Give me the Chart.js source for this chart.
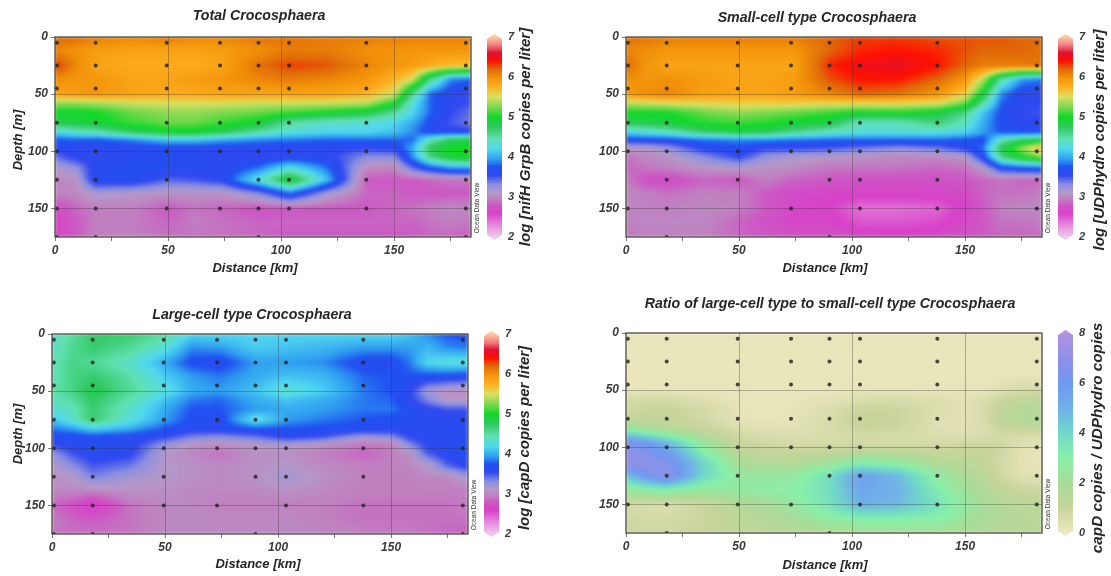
<!DOCTYPE html>
<html>
<head>
<meta charset="utf-8">
<title>Crocosphaera sections</title>
<script src="https://cdn.jsdelivr.net/npm/chart.js@4"></script>
<style>
  html, body { margin: 0; padding: 0; background: #fff; }
  body { position: relative; width: 1111px; height: 576px; overflow: hidden; }
  canvas { position: absolute; filter: blur(0.55px); }
</style>
</head>
<body>
<canvas id="total"></canvas>
<canvas id="small"></canvas>
<canvas id="large"></canvas>
<canvas id="ratio"></canvas>
<script>
// grid the fields were read on
const distances = [0, 9, 18, 34, 50, 62, 74, 90, 104, 120, 138, 150, 158, 166, 175, 185];
const depths = [0, 12, 25, 37, 50, 58, 66, 75, 83, 90, 97, 105, 115, 125, 137, 150, 162, 175];

const totalField = [
  [6.2,6.18,6.1,6.05,6.12,6.05,6.05,6.12,6.15,6.1,6.08,6.08,6.08,6.08,6.08,6.08],
  [6.05,5.98,5.9,5.85,5.85,5.85,5.9,6.0,6.1,6.1,6.0,5.98,5.95,5.95,5.95,5.95],
  [6.35,6.05,5.85,5.8,5.8,5.8,5.85,6.15,6.3,6.25,6.05,5.95,5.9,5.8,5.7,5.65],
  [6.0,5.95,5.95,5.85,5.85,5.9,5.95,6.05,6.1,6.05,5.95,5.75,5.5,4.6,3.9,3.8],
  [5.85,5.9,5.95,5.85,5.8,5.8,5.85,5.85,5.85,5.85,5.75,5.5,4.6,3.8,3.6,3.5],
  [5.3,5.3,5.35,5.45,5.5,5.5,5.5,5.45,5.45,5.45,5.4,5.0,4.3,3.8,3.6,3.5],
  [4.95,4.95,5.0,5.2,5.3,5.3,5.25,5.2,5.1,5.0,4.85,4.55,4.2,3.8,3.55,3.4],
  [4.85,4.9,4.95,5.1,5.2,5.2,5.1,4.95,4.5,4.35,4.3,4.2,4.0,3.7,3.5,3.35],
  [4.2,4.35,4.45,4.75,4.95,4.95,4.8,4.5,4.3,4.2,4.2,4.1,3.9,3.65,3.6,3.6],
  [3.75,3.8,3.75,3.9,4.1,4.1,4.0,3.9,3.85,3.8,3.8,3.8,3.8,4.4,4.8,4.9],
  [3.65,3.6,3.6,3.6,3.65,3.65,3.6,3.6,3.6,3.6,3.55,3.6,4.0,4.8,5.0,5.05],
  [3.4,3.6,3.6,3.65,3.7,3.65,3.6,3.55,3.6,3.6,3.3,3.3,3.9,4.6,4.95,5.0],
  [3.1,3.25,3.65,3.7,3.7,3.65,3.6,3.85,4.3,3.85,3.0,2.95,3.4,3.7,3.9,3.95],
  [3.0,3.05,3.7,3.7,3.45,3.5,3.6,4.3,5.0,4.1,2.8,2.8,2.8,2.85,2.9,2.9],
  [2.95,3.0,3.15,3.1,3.05,3.05,3.05,3.3,3.8,3.2,2.85,2.85,2.8,2.8,2.8,2.8],
  [2.7,2.85,2.95,2.95,2.8,2.9,2.85,2.75,2.8,2.8,2.8,2.85,2.9,2.95,3.0,3.0],
  [2.65,2.8,2.95,2.95,2.85,2.95,2.9,2.85,2.85,2.85,2.85,2.85,2.85,2.9,2.95,2.9],
  [2.6,2.8,2.95,2.95,2.9,2.9,2.9,2.85,2.8,2.8,2.8,2.8,2.8,2.85,2.85,2.8]
];

const smallField = [
  [6.15,6.15,6.1,6.1,6.1,6.1,6.1,6.2,6.3,6.3,6.25,6.25,6.25,6.25,6.2,6.2],
  [6.05,6.0,5.95,5.95,5.95,5.95,5.95,6.2,6.35,6.4,6.35,6.25,6.2,6.2,6.2,6.15],
  [6.2,5.95,5.85,5.85,5.85,5.85,5.85,6.35,6.5,6.55,6.4,6.2,6.1,6.1,6.1,6.15],
  [6.0,5.95,6.0,5.9,5.85,5.85,5.9,6.25,6.4,6.4,6.2,5.95,5.4,4.5,3.95,3.85],
  [5.9,6.0,6.05,5.9,5.85,5.85,5.9,6.05,6.2,6.15,5.95,5.6,4.9,3.9,3.6,3.6],
  [5.4,5.45,5.5,5.55,5.6,5.6,5.6,5.55,5.55,5.55,5.5,5.2,4.5,3.8,3.6,3.6],
  [5.0,5.0,5.0,5.2,5.3,5.25,5.2,5.1,5.0,5.05,4.9,4.6,4.1,3.7,3.55,3.5],
  [4.8,4.85,4.9,5.05,5.1,5.05,4.95,4.85,4.4,4.4,4.65,4.4,4.0,3.7,3.6,3.6],
  [4.2,4.3,4.4,4.7,4.85,4.8,4.6,4.4,4.3,4.3,4.3,4.2,3.95,3.75,3.7,3.7],
  [3.65,3.7,3.7,3.85,3.9,3.9,3.85,3.8,3.8,3.8,3.8,3.75,3.7,4.4,4.7,4.85],
  [3.1,3.1,3.25,3.6,3.7,3.55,3.55,3.5,3.4,3.3,3.4,3.6,3.85,4.8,5.3,5.8],
  [2.9,3.0,3.05,3.3,3.55,3.25,3.15,3.1,3.05,3.0,3.0,3.1,3.65,4.6,5.0,5.3],
  [2.85,2.9,2.95,3.05,3.1,3.05,3.0,2.9,2.9,2.9,2.85,2.9,3.1,3.6,3.7,3.75],
  [2.95,2.75,2.7,2.85,2.8,2.95,2.85,2.8,2.75,2.75,2.75,2.8,2.85,2.9,2.85,2.85],
  [3.0,2.95,2.9,2.95,2.95,2.8,2.7,2.65,2.65,2.65,2.65,2.7,2.85,2.9,2.9,2.95],
  [3.0,2.95,2.95,3.0,2.95,2.8,2.65,2.6,2.4,2.4,2.45,2.65,2.8,2.95,3.0,3.0],
  [2.95,3.0,3.0,3.0,2.85,2.75,2.65,2.65,2.5,2.5,2.55,2.7,2.8,2.9,2.9,2.95],
  [2.9,2.95,2.95,2.95,2.85,2.8,2.75,2.75,2.7,2.65,2.7,2.75,2.8,2.85,2.85,2.85]
];

const largeField = [
  [4.35,4.5,4.75,4.7,4.5,4.2,4.2,4.2,4.2,4.2,4.2,4.2,4.1,3.9,3.75,3.7],
  [4.35,4.55,4.7,4.55,4.3,3.9,3.95,4.15,4.1,4.05,3.95,3.95,3.95,4.05,3.9,3.85],
  [4.4,4.6,4.55,4.35,4.0,3.7,3.65,3.95,3.95,3.9,3.65,3.65,3.85,4.2,4.3,4.3],
  [4.4,4.6,4.7,4.5,4.15,3.95,3.85,4.0,4.1,4.05,3.8,3.75,3.75,3.7,3.7,3.65],
  [4.45,4.6,4.85,4.55,4.3,4.0,3.95,4.1,4.35,4.15,3.85,3.75,3.6,3.2,3.05,3.0],
  [4.4,4.5,4.75,4.45,4.1,3.85,3.8,4.0,4.1,4.0,3.85,3.8,3.6,3.35,3.1,3.1],
  [4.3,4.4,4.7,4.35,4.0,3.75,3.75,3.95,4.0,3.95,3.85,3.85,3.7,3.6,3.5,3.5],
  [4.1,4.35,4.7,4.3,3.95,3.7,3.65,4.3,3.95,3.85,3.75,3.7,3.7,3.65,3.65,3.65],
  [3.85,3.95,4.15,4.0,3.75,3.65,3.65,3.75,3.75,3.7,3.7,3.65,3.65,3.65,3.65,3.65],
  [3.65,3.65,3.7,3.65,3.55,3.35,3.3,3.4,3.6,3.5,3.2,3.3,3.55,3.65,3.65,3.65],
  [3.55,3.65,3.7,3.65,3.25,3.05,3.0,3.1,3.15,3.05,2.9,2.95,3.3,3.6,3.65,3.7],
  [3.25,3.5,3.65,3.6,3.1,3.0,2.9,3.05,3.05,2.95,2.85,2.95,3.05,3.45,3.65,3.7],
  [3.1,3.3,3.5,3.4,3.1,3.05,3.0,3.05,3.1,3.0,2.95,2.95,3.0,3.1,3.45,3.65],
  [3.05,3.1,3.35,3.2,3.1,3.05,3.0,3.05,3.2,3.05,2.95,2.95,2.95,3.0,3.0,3.2],
  [3.0,3.0,3.0,3.05,3.05,3.0,3.0,3.0,3.05,3.0,2.95,2.95,2.95,2.95,2.95,2.95],
  [2.85,2.75,2.55,2.9,3.0,3.0,2.95,2.95,2.95,2.95,2.9,2.9,2.9,2.9,2.9,2.95],
  [2.95,2.85,2.8,2.9,3.0,3.0,3.0,3.0,3.0,2.95,2.9,2.9,2.9,2.9,2.9,2.9],
  [2.9,2.9,2.9,2.9,3.0,3.0,3.0,3.0,3.0,3.0,2.95,2.95,2.95,2.9,2.85,2.85]
];

const ratioField = [
  [0.2,0.2,0.2,0.2,0.2,0.2,0.2,0.2,0.2,0.2,0.2,0.2,0.2,0.2,0.2,0.2],
  [0.15,0.15,0.15,0.15,0.15,0.15,0.15,0.15,0.15,0.15,0.15,0.15,0.15,0.15,0.15,0.15],
  [0.1,0.1,0.1,0.1,0.1,0.1,0.1,0.1,0.1,0.1,0.1,0.1,0.1,0.1,0.1,0.1],
  [0.1,0.1,0.1,0.1,0.1,0.1,0.1,0.1,0.1,0.1,0.1,0.1,0.1,0.15,0.2,0.2],
  [0.2,0.2,0.15,0.15,0.15,0.1,0.1,0.1,0.2,0.2,0.2,0.2,0.2,0.4,0.6,0.7],
  [0.6,0.7,0.7,0.4,0.15,0.1,0.15,0.3,0.5,0.6,0.4,0.3,0.5,0.9,1.2,1.3],
  [0.8,0.9,1.0,0.7,0.2,0.1,0.2,0.5,0.9,0.9,0.5,0.3,0.6,1.2,1.5,1.6],
  [1.1,1.1,1.1,0.8,0.25,0.15,0.25,0.6,1.1,1.0,0.4,0.3,0.6,1.3,1.6,1.7],
  [2.5,1.9,1.5,1.0,0.5,0.3,0.35,0.6,1.0,0.9,0.4,0.3,0.5,1.0,1.2,1.3],
  [4.8,4.0,3.2,1.7,0.8,0.6,0.5,0.6,0.7,0.7,0.5,0.5,0.6,0.7,0.6,0.6],
  [6.5,6.0,5.0,2.6,1.0,0.8,0.7,0.7,0.7,0.7,0.7,0.8,0.9,0.8,0.4,0.3],
  [7.0,6.6,5.9,3.2,1.4,1.2,1.1,1.2,1.6,1.5,1.1,1.1,1.1,0.8,0.3,0.2],
  [7.0,6.9,6.7,4.2,1.9,1.7,1.7,2.4,3.4,3.0,1.8,1.4,1.2,0.7,0.3,0.2],
  [4.5,6.0,7.0,4.0,2.6,2.5,2.6,3.8,5.6,4.8,2.7,1.9,1.4,0.8,0.4,0.3],
  [2.5,3.0,3.2,2.6,2.6,2.8,2.9,3.8,5.4,5.0,3.2,2.2,1.7,1.2,0.9,0.8],
  [0.7,0.6,0.5,0.9,1.6,1.9,2.6,3.6,5.0,4.8,3.6,2.6,2.0,1.6,1.4,1.4],
  [0.8,0.7,0.7,0.9,1.3,1.6,2.0,2.8,3.2,3.2,3.0,2.4,1.9,1.6,1.5,1.5],
  [0.9,0.9,0.9,1.0,1.3,1.4,1.5,1.7,1.9,2.0,2.0,1.8,1.6,1.5,1.5,1.5]
];

// sampling stations, [distance, depth]
const stationKm = [0.8, 18, 49.4, 73, 90, 103.5, 137.7, 181.7];
const upperDepths = [5, 25, 45, 75, 100];
const totalExtra = [[0.8,125],[18,125],[49.4,125],[90,125],[103.5,125],[137.7,125],[181.7,125],[0.8,150],[18,150],[49.4,150],[73,150],[90,150],[103.5,150],[137.7,150],[181.7,150],[0.8,175],[18,175],[90,175],[181.7,175]];
const smallExtra = [[18,125],[49.4,125],[90,125],[103.5,125],[137.7,125],[181.7,125],[0.8,150],[18,150],[73,150],[103.5,150],[137.7,150],[181.7,150],[18,175],[90,175]];
const largeExtra = [[0.8,125],[18,125],[49.4,125],[90,125],[103.5,125],[137.7,125],[0.8,150],[18,150],[49.4,150],[73,150],[103.5,150],[137.7,150],[181.7,150],[0.8,175],[18,175],[90,175],[181.7,175]];
const ratioExtra = [[18,125],[49.4,125],[90,125],[103.5,125],[137.7,125],[181.7,125],[0.8,150],[18,150],[49.4,150],[73,150],[103.5,150],[137.7,150],[181.7,150],[18,175],[90,175]];

const logStops = [[2,"#f0c8ec"],[2.3,"#e488dc"],[2.6,"#d840c8"],[2.8,"#cc58c4"],[2.95,"#c080c0"],[3.1,"#b498c8"],[3.3,"#8c90e0"],[3.55,"#3048f0"],[3.75,"#2050f0"],[3.95,"#30a0f0"],[4.2,"#50d8f0"],[4.45,"#60e0b0"],[4.75,"#30c860"],[5,"#10d828"],[5.25,"#80d850"],[5.5,"#d8e060"],[5.75,"#ffb020"],[6,"#f09008"],[6.2,"#e06808"],[6.4,"#ff1000"],[6.6,"#e01030"],[6.8,"#f08080"],[7,"#ffc8a0"]];
const ratioStops = [[0,"#eee8c0"],[1,"#c8d49c"],[2,"#a8dc98"],[3,"#88f0a8"],[4,"#70d8c8"],[5,"#70b0e8"],[6,"#7098f0"],[7,"#9090e8"],[8,"#b094e0"]];

const panels = [
  { id: "total", field: totalField, extra: totalExtra, stops: logStops, cMax: 7, cStep: 1, cMin: 2,
    box: [0, 0, 556, 290], plot: [55, 471, 37, 237], bar: [487, 502],
    title: "Total Crocosphaera", titleAt: [259, 16], xLabelAt: [255, 268], yLabelAt: [18, 140],
    barTitle: "log [nifH GrpB copies per liter]", barTitleAt: [526, 137], barFont: 15 },
  { id: "small", field: smallField, extra: smallExtra, stops: logStops, cMax: 7, cStep: 1, cMin: 2,
    box: [590, 0, 521, 290], plot: [626, 1042, 37, 237], bar: [1058, 1073],
    title: "Small-cell type Crocosphaera", titleAt: [817, 18], xLabelAt: [825, 268], yLabelAt: null,
    barTitle: "log [UDPhydro copies per liter]", barTitleAt: [1100, 140], barFont: 15 },
  { id: "large", field: largeField, extra: largeExtra, stops: logStops, cMax: 7, cStep: 1, cMin: 2,
    box: [0, 296, 556, 280], plot: [52, 468, 334, 534], bar: [484, 499],
    title: "Large-cell type Crocosphaera", titleAt: [252, 315], xLabelAt: [258, 564], yLabelAt: [18, 434],
    barTitle: "log [capD copies per liter]", barTitleAt: [525, 438], barFont: 15 },
  { id: "ratio", field: ratioField, extra: ratioExtra, stops: ratioStops, cMax: 8, cStep: 2, cMin: 0,
    box: [590, 296, 521, 280], plot: [626, 1042, 333, 533], bar: [1058, 1073],
    title: "Ratio of large-cell type to small-cell type Crocosphaera", titleAt: [830, 304], xLabelAt: [825, 565], yLabelAt: null,
    barTitle: "capD copies / UDPhydro copies", barTitleAt: [1098, 438], barFont: 15.3 }
];

const FONT = '"Liberation Sans", Arial, sans-serif';

function hexRgb(h) {
  return [parseInt(h.slice(1, 3), 16), parseInt(h.slice(3, 5), 16), parseInt(h.slice(5, 7), 16)];
}

function colourAt(stops, v) {
  if (v <= stops[0][0]) return hexRgb(stops[0][1]);
  for (let i = 1; i < stops.length; i++) {
    if (v <= stops[i][0]) {
      const t = (v - stops[i - 1][0]) / (stops[i][0] - stops[i - 1][0]);
      const a = hexRgb(stops[i - 1][1]), b = hexRgb(stops[i][1]);
      return [a[0] + (b[0] - a[0]) * t, a[1] + (b[1] - a[1]) * t, a[2] + (b[2] - a[2]) * t];
    }
  }
  return hexRgb(stops[stops.length - 1][1]);
}

// where a value falls between two grid lines
function gridPos(list, v) {
  let i = 0;
  while (i < list.length - 2 && v > list[i + 1]) i++;
  return [i, Math.max(0, Math.min(1, (v - list[i]) / (list[i + 1] - list[i])))];
}

function fieldAt(field, km, m) {
  const [c, s] = gridPos(distances, km);
  const [r, t] = gridPos(depths, m);
  const top = field[r][c] + (field[r][c + 1] - field[r][c]) * s;
  const bot = field[r + 1][c] + (field[r + 1][c + 1] - field[r + 1][c]) * s;
  return top + (bot - top) * t;
}

// contour field under the grid, painted through the chart scales
const fieldPlugin = {
  id: "fieldPlugin",
  beforeDraw(chart, args, opts) {
    const p = opts.panel;
    const { left, top, width, height } = chart.chartArea;
    const w = Math.round(width), h = Math.round(height);
    const off = document.createElement("canvas");
    off.width = w; off.height = h;
    const octx = off.getContext("2d");
    const img = octx.createImageData(w, h);
    for (let j = 0; j < h; j++) {
      const m = chart.scales.y.getValueForPixel(top + j + 0.5);
      for (let i = 0; i < w; i++) {
        const km = chart.scales.x.getValueForPixel(left + i + 0.5);
        const col = colourAt(p.stops, fieldAt(p.field, km, m));
        const k = (j * w + i) * 4;
        img.data[k] = col[0]; img.data[k + 1] = col[1]; img.data[k + 2] = col[2]; img.data[k + 3] = 255;
      }
    }
    octx.putImageData(img, 0, 0);
    const ctx = chart.ctx;
    ctx.save();
    ctx.beginPath();
    ctx.rect(left, top, width, height);
    ctx.clip();
    ctx.filter = "blur(1.6px)";
    ctx.drawImage(off, left, top);
    ctx.restore();
  },
  afterDatasetsDraw(chart, args, opts) {
    const p = opts.panel, ctx = chart.ctx, ox = p.box[0], oy = p.box[1];
    const a = chart.chartArea, c = chart.scales.c;

    ctx.save();
    ctx.strokeStyle = "#4a4a40";
    ctx.lineWidth = 1.3;
    ctx.strokeRect(a.left, a.top, a.right - a.left, a.bottom - a.top);

    // colour bar with its pointed ends
    const bl = p.bar[0] - ox, br = p.bar[1] - ox, yT = c.getPixelForValue(p.cMax), yB = c.getPixelForValue(p.cMin);
    ctx.save();
    ctx.beginPath();
    ctx.moveTo(bl, yT + 2);
    ctx.lineTo((bl + br) / 2, yT - 3);
    ctx.lineTo(br, yT + 2);
    ctx.lineTo(br, yB - 2);
    ctx.lineTo((bl + br) / 2, yB + 3);
    ctx.lineTo(bl, yB - 2);
    ctx.closePath();
    ctx.clip();
    for (let y = Math.floor(yT - 3); y <= yB + 3; y++) {
      const col = colourAt(p.stops, c.getValueForPixel(y + 0.5));
      ctx.fillStyle = "rgb(" + col.map(Math.round).join(",") + ")";
      ctx.fillRect(bl, y, br - bl, 1);
    }
    ctx.restore();

    // panel texts
    ctx.fillStyle = "#262626";
    ctx.textAlign = "center";
    ctx.textBaseline = "middle";
    ctx.font = "italic bold 14.2px " + FONT;
    ctx.fillText(p.title, p.titleAt[0] - ox, p.titleAt[1] - oy);
    ctx.font = "italic bold 13px " + FONT;
    ctx.fillText("Distance [km]", p.xLabelAt[0] - ox, p.xLabelAt[1] - oy);
    if (p.yLabelAt) vertical(ctx, "Depth [m]", p.yLabelAt[0] - ox, p.yLabelAt[1] - oy);
    ctx.font = "italic bold " + p.barFont + "px " + FONT;
    vertical(ctx, p.barTitle, p.barTitleAt[0] - ox, p.barTitleAt[1] - oy);
    ctx.font = "6.5px " + FONT;
    ctx.fillStyle = "#333";
    vertical(ctx, "Ocean Data View", a.right + 6, a.bottom - 29);
    ctx.restore();
  }
};

function vertical(ctx, text, x, y) {
  ctx.save();
  ctx.translate(x, y);
  ctx.rotate(-Math.PI / 2);
  ctx.fillText(text, 0, 0);
  ctx.restore();
}

function stationPoints(extra) {
  const pts = [];
  stationKm.forEach(function (km) {
    upperDepths.forEach(function (m) { pts.push({ x: km, y: m }); });
  });
  extra.forEach(function (e) { pts.push({ x: e[0], y: e[1] }); });
  return pts;
}

// the plot box is fixed per panel, so no room for half tick labels
function noPadding(s) {
  s.paddingTop = 0; s.paddingBottom = 0; s.paddingLeft = 0; s.paddingRight = 0;
}

const tickFont = { family: FONT, size: 12, weight: "bold", style: "italic" };

panels.forEach(function (p) {
  const canvas = document.getElementById(p.id);
  canvas.width = p.box[2];
  canvas.height = p.box[3];
  canvas.style.left = p.box[0] + "px";
  canvas.style.top = p.box[1] + "px";

  new Chart(canvas, {
    type: "scatter",
    data: {
      datasets: [{
        data: stationPoints(p.extra),
        pointRadius: 2,
        pointHoverRadius: 2,
        pointBackgroundColor: "rgba(40,40,40,0.85)",
        pointBorderWidth: 0
      }]
    },
    plugins: [fieldPlugin],
    options: {
      responsive: false,
      animation: false,
      layout: { padding: { top: p.plot[2] - p.box[1], left: 0, right: 0, bottom: 0 } },
      plugins: {
        legend: { display: false },
        tooltip: { enabled: false },
        fieldPlugin: { panel: p }
      },
      scales: {
        x: {
          type: "linear",
          min: 0,
          max: 184,
          border: { display: false },
          grid: {
            color: function (c) { return c.tick && c.tick.value % 50 === 0 && c.tick.value > 0 ? "rgba(50,50,50,0.42)" : "transparent"; },
            tickColor: "#555",
            tickLength: 4,
            lineWidth: 0.8
          },
          ticks: {
            stepSize: 25,
            includeBounds: false,
            autoSkip: false,
            maxRotation: 0,
            padding: 2,
            color: "#3a3a3a",
            font: tickFont,
            callback: function (v) { return v % 50 === 0 ? String(v) : ""; }
          },
          afterFit: function (s) { s.height = p.box[1] + p.box[3] - p.plot[3]; noPadding(s); }
        },
        y: {
          type: "linear",
          reverse: true,
          min: 0,
          max: 175,
          border: { display: false },
          grid: {
            color: function (c) { return c.tick && c.tick.value > 0 ? "rgba(50,50,50,0.42)" : "transparent"; },
            tickColor: "#555",
            tickLength: 4,
            lineWidth: 0.8
          },
          ticks: {
            stepSize: 50,
            includeBounds: false,
            padding: 3,
            color: "#3a3a3a",
            font: tickFont
          },
          afterFit: function (s) { s.width = p.plot[0] - p.box[0]; noPadding(s); }
        },
        c: {
          type: "linear",
          position: "right",
          min: p.cMin,
          max: p.cMax,
          border: { display: false },
          grid: { display: false, drawTicks: false },
          ticks: {
            stepSize: p.cStep,
            padding: p.bar[1] - p.plot[1] + 6,
            color: "#3a3a3a",
            font: { family: FONT, size: 11, weight: "bold", style: "italic" }
          },
          afterFit: function (s) { s.width = p.box[0] + p.box[2] - p.plot[1]; noPadding(s); }
        }
      }
    }
  });
});
</script>
</body>
</html>
